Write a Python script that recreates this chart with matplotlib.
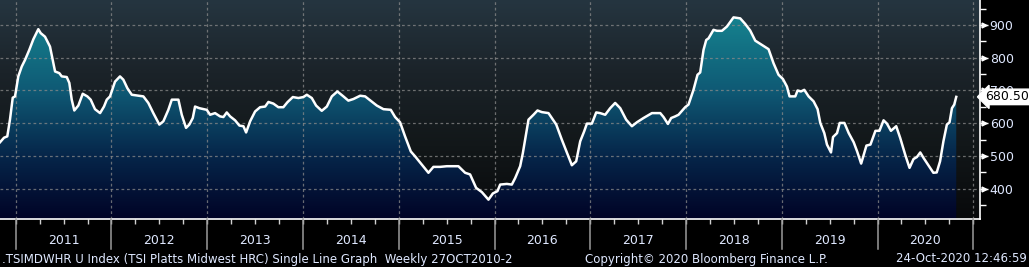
import numpy as np
import matplotlib
matplotlib.use("Agg")
import matplotlib.pyplot as plt
from matplotlib.colors import LinearSegmentedColormap
from matplotlib.patches import Polygon
import matplotlib.transforms as mtransforms

# ---- data (decimal year, index value) ----
dates = [
    2010.836, 2010.878, 2010.912, 2010.940, 2010.969, 2010.993, 2011.027, 2011.063,
    2011.097, 2011.142, 2011.184, 2011.236, 2011.261, 2011.306, 2011.358, 2011.393,
    2011.411, 2011.455, 2011.481, 2011.533, 2011.560, 2011.585, 2011.612, 2011.654,
    2011.700, 2011.748, 2011.783, 2011.828, 2011.881, 2011.922, 2011.951, 2011.985,
    2012.037, 2012.089, 2012.124, 2012.166, 2012.212, 2012.281, 2012.333, 2012.385,
    2012.437, 2012.500, 2012.542, 2012.594, 2012.630, 2012.699, 2012.734, 2012.779,
    2012.813, 2012.849, 2012.873, 2012.918, 2012.995, 2013.030, 2013.082, 2013.134,
    2013.169, 2013.204, 2013.239, 2013.291, 2013.336, 2013.378, 2013.406, 2013.448,
    2013.500, 2013.552, 2013.605, 2013.639, 2013.691, 2013.743, 2013.795, 2013.837,
    2013.894, 2013.952, 2014.004, 2014.040, 2014.092, 2014.137, 2014.196, 2014.249,
    2014.301, 2014.359, 2014.422, 2014.474, 2014.527, 2014.597, 2014.649, 2014.701,
    2014.771, 2014.840, 2014.917, 2014.962, 2015.014, 2015.066, 2015.126, 2015.171,
    2015.241, 2015.310, 2015.362, 2015.432, 2015.502, 2015.623, 2015.693, 2015.745,
    2015.808, 2015.868, 2015.937, 2015.983, 2016.031, 2016.059, 2016.129, 2016.181,
    2016.216, 2016.268, 2016.296, 2016.320, 2016.355, 2016.407, 2016.449, 2016.495,
    2016.564, 2016.645, 2016.703, 2016.772, 2016.808, 2016.853, 2016.895, 2016.936,
    2016.965, 2017.017, 2017.062, 2017.103, 2017.156, 2017.208, 2017.260, 2017.313,
    2017.375, 2017.435, 2017.487, 2017.556, 2017.644, 2017.731, 2017.765, 2017.811,
    2017.845, 2017.887, 2017.922, 2017.974, 2017.991, 2018.026, 2018.078, 2018.120,
    2018.148, 2018.183, 2018.211, 2018.235, 2018.287, 2018.323, 2018.375, 2018.427,
    2018.496, 2018.566, 2018.618, 2018.670, 2018.723, 2018.793, 2018.862, 2018.914,
    2018.966, 2019.012, 2019.054, 2019.081, 2019.141, 2019.165, 2019.200, 2019.235,
    2019.280, 2019.332, 2019.374, 2019.402, 2019.444, 2019.472, 2019.514, 2019.535,
    2019.577, 2019.605, 2019.654, 2019.699, 2019.751, 2019.787, 2019.829, 2019.856,
    2019.884, 2019.926, 2019.978, 2020.020, 2020.063, 2020.098, 2020.140, 2020.195,
    2020.237, 2020.289, 2020.334, 2020.376, 2020.411, 2020.446, 2020.481, 2020.533,
    2020.583, 2020.618, 2020.653, 2020.688, 2020.724, 2020.752, 2020.777, 2020.801,
    2020.822,
]
values = [
    542, 556, 560, 611, 678, 682, 743, 773,
    793, 824, 856, 887, 875, 864, 834, 783,
    758, 753, 743, 741, 723, 672, 639, 654,
    690, 682, 672, 643, 631, 651, 672, 682,
    727, 743, 733, 707, 687, 684, 682, 662,
    631, 596, 606, 641, 672, 672, 626, 586,
    596, 616, 651, 646, 641, 626, 631, 621,
    619, 633, 621, 609, 593, 591, 572, 606,
    636, 649, 651, 665, 660, 649, 649, 664,
    680, 677, 680, 687, 677, 654, 638, 651,
    682, 697, 682, 669, 674, 684, 682, 670,
    654, 643, 641, 619, 603, 560, 514, 499,
    474, 449, 467, 467, 469, 469, 449, 444,
    403, 390, 367, 386, 393, 413, 415, 413,
    433, 469, 509, 550, 611, 626, 639, 634,
    631, 596, 550, 499, 472, 484, 545, 575,
    599, 599, 633, 631, 626, 646, 662, 646,
    611, 591, 603, 616, 631, 631, 619, 598,
    616, 621, 626, 643, 649, 657, 702, 748,
    755, 824, 854, 859, 885, 882, 882, 895,
    923, 920, 903, 883, 852, 839, 826, 783,
    748, 735, 712, 682, 682, 700, 697, 702,
    682, 667, 643, 601, 570, 535, 511, 558,
    570, 601, 601, 570, 542, 514, 477, 504,
    532, 535, 577, 577, 609, 599, 577, 591,
    555, 504, 464, 491, 497, 511, 494, 471,
    449, 450, 484, 545, 596, 603, 646, 657,
    680.5,
]
years = list(range(2011, 2021))
y_major = [400, 500, 600, 700, 800, 900]
y_minor = [350, 450, 550, 650, 750, 850, 950]
last_label = "680.50"

left_text = ".TSIMDWHR U Index (TSI Platts Midwest HRC) Single Line Graph  Weekly 27OCT2010-2"
mid_text = "Copyright\u00a9 2020 Bloomberg Finance L.P."
right_text = "24-Oct-2020 12:46:59"

# ---- figure ----
W, H = 1029, 267
FS = 8.5
TXT = "#dfe8ff"
fig = plt.figure(figsize=(W / 100, H / 100), dpi=100, facecolor="black")
ax = fig.add_axes([0, 48 / H, 980 / W, 1 - 48 / H])
x0, x1 = 2010.836, 2021.07
y0, y1 = 308, 976
ax.set_xlim(x0, x1)
ax.set_ylim(y0, y1)
ax.set_facecolor("black")

# background gradient
bg_cmap = LinearSegmentedColormap.from_list("bg", ["#08090b", "#121719", "#1b2329", "#253540"])
grad = np.linspace(0, 1, 256).reshape(-1, 1)
ax.imshow(grad, extent=[x0, x1, y0, y1], origin="lower", aspect="auto", cmap=bg_cmap, zorder=0)

# gradient-filled area
fill_cmap = LinearSegmentedColormap.from_list(
    "fill", [(0.0, "#010326"), (0.29, "#06264a"), (0.59, "#0f5a75"), (0.89, "#157e8c"), (1.0, "#188a96")])
dx = np.array(dates)
vy = np.array(values, dtype=float)
verts = np.column_stack([np.r_[dx[0], dx, dx[-1]], np.r_[y0, vy, y0]])
poly = Polygon(verts, closed=True, facecolor="none", edgecolor="none", transform=ax.transData)
ax.add_patch(poly)
im = ax.imshow(grad, extent=[x0, x1, y0, y1], origin="lower", aspect="auto", cmap=fill_cmap, zorder=1)
im.set_clip_path(poly)

# grid
for yv in y_major:
    ax.axhline(yv, color="#8a8a8a", lw=0.9, dashes=(2.2, 2.2), alpha=0.75, zorder=2)
for yr in years + [2021]:
    ax.axvline(yr, color="#8a8a8a", lw=0.9, dashes=(2.2, 2.2), alpha=0.75, zorder=2)

# line
ax.plot(dx, vy, color="white", lw=1.8, zorder=3, solid_joinstyle="round")

# spines
for s in ["top", "left"]:
    ax.spines[s].set_visible(False)
for s in ["right", "bottom"]:
    ax.spines[s].set_color("white")
    ax.spines[s].set_linewidth(1.2)
    ax.spines[s].set_zorder(5)

# y axis right
ax.yaxis.tick_right()
ax.set_yticks(y_major)
ax.set_yticklabels([str(v) for v in y_major])
ax.set_yticks(y_minor, minor=True)
ax.tick_params(axis="y", which="major", length=6, width=1, color="white", direction="out",
               labelcolor=TXT, labelsize=FS + 0.5, pad=1)
ax.tick_params(axis="y", which="minor", length=4, width=1, color="white", direction="out")
trans_r = mtransforms.blended_transform_factory(ax.transAxes, ax.transData)
ax.plot([1.004] * len(y_major), y_major, linestyle="none", marker=">", ms=3.5, color="white",
        transform=trans_r, clip_on=False, zorder=6)

# x axis: quarterly minor ticks, no labels
qt = [yr + q / 4 for yr in range(2010, 2022) for q in range(4) if x0 < yr + q / 4 < x1]
ax.set_xticks(qt)
ax.set_xticklabels([])
ax.tick_params(axis="x", which="major", length=3.5, width=1, color="#cfcfcf", direction="out")

trans_b = mtransforms.blended_transform_factory(ax.transData, ax.transAxes)
for yr in years + [2021]:
    ax.plot([yr, yr], [0, -30 / 219], color="#9a9a9a", lw=1.1, transform=trans_b, clip_on=False, zorder=6)
for yr in years:
    ax.text(yr + 0.5, -22 / 219, str(yr), transform=trans_b, ha="center", va="center",
            color=TXT, fontsize=FS + 0.5)

# last value box
ax.annotate(last_label, xy=(1.0, values[-1]), xycoords=trans_r, xytext=(4, 0), textcoords="offset points",
            ha="left", va="center", fontsize=FS + 0.5, color="black",
            bbox=dict(boxstyle="larrow,pad=0.1", fc="white", ec="white"), annotation_clip=False, zorder=10)

# footer
fig.text(2 / W, 8 / H, left_text, ha="left", va="center", color=TXT, fontsize=FS)
fig.text(585 / W, 8 / H, mid_text, ha="left", va="center", color=TXT, fontsize=FS)
fig.text(1027 / W, 8 / H, right_text, ha="right", va="center", color=TXT, fontsize=FS)

fig.savefig("out.png", dpi=100, facecolor="black")
